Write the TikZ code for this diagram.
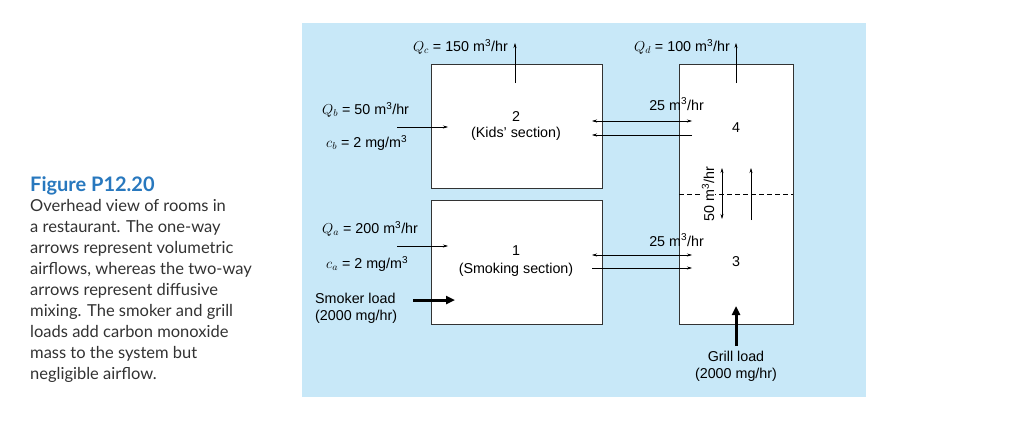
\documentclass[tikz,border=0pt]{standalone}
\usepackage{fontspec}
\setmainfont{Liberation Sans}
\newfontfamily\capfont{Lato}
\usetikzlibrary{arrows.meta}
\definecolor{bg}{RGB}{200,232,248}
\definecolor{capblue}{RGB}{40,120,190}
\definecolor{capgray}{RGB}{50,50,50}
\begin{document}
\begin{tikzpicture}[x=1pt,y=-1pt,
  lbl/.style={font=\fontsize{14.3}{17}\selectfont, inner sep=0pt},
  box/.style={draw=black!80, fill=white, line width=0.6pt},
  fl/.style={-{Stealth[length=5pt,width=3pt]}, line width=0.5pt},
  tw/.style={{Stealth[length=5pt,width=3pt]}-{Stealth[length=5pt,width=3pt]}, line width=0.5pt},
  thick arrow/.style={-{Triangle[length=9pt,width=8pt]}, line width=3pt},
  captxt/.style={font=\capfont\fontsize{16.5}{21}\selectfont, text=capgray, anchor=north west, inner sep=0pt, align=left}]
\useasboundingbox (0,0) rectangle (1024,420);
\fill[bg] (302,23) rectangle (866,397);
\node[box, minimum width=171pt, minimum height=124pt, anchor=north west] (b2) at (431,64) {};
\node[box, minimum width=171pt, minimum height=124pt, anchor=north west] (b1) at (431,200) {};
\node[box, minimum width=114pt, minimum height=260pt, anchor=north west] (b34) at (679,64) {};
\coordinate (dl) at (679,194); \coordinate (dr) at (793,194);
\draw[dashed, line width=0.5pt, dash pattern=on 5pt off 3pt] (dl) -- (dr);
\node[lbl] (n2) at (516,117) {2};
\node[lbl] (k2) at (516,134) {(Kids' section)};
\node[lbl] (n1) at (516,251) {1};
\node[lbl] (k1) at (516,270) {(Smoking section)};
\node[lbl] (n4) at (736,128) {4};
\node[lbl] (n3) at (736,262) {3};
\coordinate (qc0) at (515,83); \coordinate (qc1) at (515,43);
\draw[fl] (qc0) -- (qc1);
\node[lbl, anchor=east] (qc) at (508,47) {$Q_c$ = 150 m\textsuperscript{3}/hr};
\coordinate (qd0) at (736,83); \coordinate (qd1) at (736,43);
\draw[fl] (qd0) -- (qd1);
\node[lbl, anchor=east] (qd) at (730,47) {$Q_d$ = 100 m\textsuperscript{3}/hr};
\coordinate (qb0) at (397,127); \coordinate (qb1) at (448,127);
\draw[fl] (qb0) -- (qb1);
\node[lbl, anchor=west] (qb) at (322,110) {$Q_b$ = 50 m\textsuperscript{3}/hr};
\node[lbl, anchor=west] (cb) at (326,143) {$c_b$ = 2 mg/m\textsuperscript{3}};
\coordinate (qa0) at (397,246); \coordinate (qa1) at (448,246);
\draw[fl] (qa0) -- (qa1);
\node[lbl, anchor=west] (qa) at (322,229) {$Q_a$ = 200 m\textsuperscript{3}/hr};
\node[lbl, anchor=west] (ca) at (326,264) {$c_a$ = 2 mg/m\textsuperscript{3}};
\coordinate (s0) at (413,300); \coordinate (s1) at (455,300);
\draw[thick arrow] (s0) -- (s1);
\node[lbl, anchor=west, align=left] (sl) at (315,308) {Smoker load\\(2000 mg/hr)};
\coordinate (g0) at (736,346); \coordinate (g1) at (736,306);
\draw[thick arrow] (g0) -- (g1);
\node[lbl, align=center] (gl) at (736,366) {Grill load\\(2000 mg/hr)};
\coordinate (a0) at (592,121); \coordinate (a1) at (692,121);
\draw[tw] (a0) -- (a1);
\coordinate (a2) at (692,135); \coordinate (a3) at (592,135);
\draw[fl] (a2) -- (a3);
\node[lbl, anchor=east] (e1) at (704,104) {25 m\textsuperscript{3}/hr};
\coordinate (c0) at (592,255); \coordinate (c1) at (692,255);
\draw[tw] (c0) -- (c1);
\coordinate (c2) at (592,268); \coordinate (c3) at (692,268);
\draw[fl] (c2) -- (c3);
\node[lbl, anchor=east] (e2) at (704,240) {25 m\textsuperscript{3}/hr};
\coordinate (v0) at (722,168); \coordinate (v1) at (722,219);
\draw[tw] (v0) -- (v1);
\coordinate (v2) at (751,220); \coordinate (v3) at (751,168);
\draw[fl] (v2) -- (v3);
\node[lbl, rotate=90, fill=white, inner sep=1pt] (e3) at (708,194) {50 m\textsuperscript{3}/hr};
\node[captxt, font=\capfont\bfseries\fontsize{20}{22}\selectfont, text=capblue] (ft) at (30,176) {Figure P12.20};
\node[captxt] (ct) at (30,199) {Overhead view of rooms in\\a restaurant. The one-way\\arrows represent volumetric\\airflows, whereas the two-way\\arrows represent diffusive\\mixing. The smoker and grill\\loads add carbon monoxide\\mass to the system but\\negligible airflow.};
\end{tikzpicture}
\end{document}
